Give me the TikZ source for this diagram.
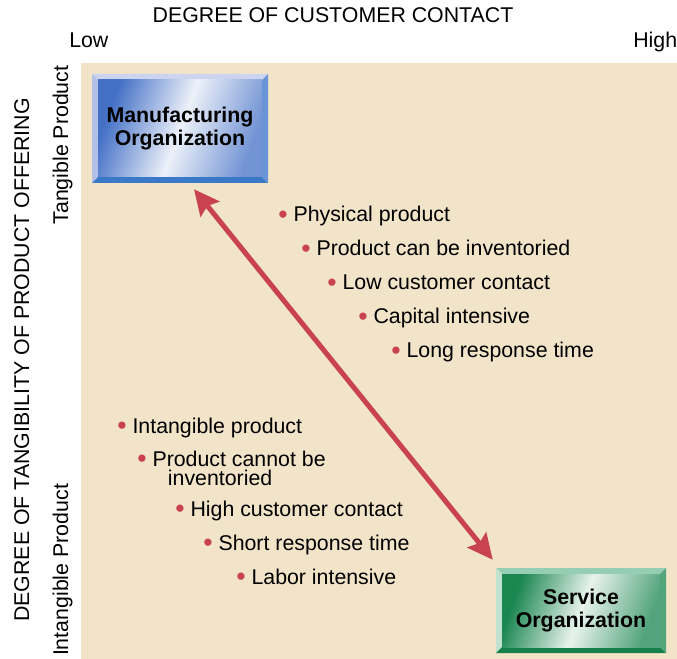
\documentclass[tikz,border=0pt]{standalone}
\usepackage{fontspec}
\setmainfont{Liberation Sans}
\usetikzlibrary{arrows.meta}
\definecolor{panelbg}{RGB}{242,228,200}
\definecolor{dotred}{RGB}{200,66,80}
% Manufacturing box colours
\definecolor{mfgtop}{RGB}{205,212,240}
\definecolor{mfgleft}{RGB}{178,192,232}
\definecolor{mfgbottom}{RGB}{58,120,200}
\definecolor{mfgright}{RGB}{105,148,215}
\definecolor{mfgface}{RGB}{68,112,198}
% Service box colours
\definecolor{svctop}{RGB}{150,206,180}
\definecolor{svcleft}{RGB}{192,226,206}
\definecolor{svcbottom}{RGB}{22,128,74}
\definecolor{svcright}{RGB}{82,166,122}
\definecolor{svcface}{RGB}{26,134,80}
\newcommand{\figfont}{\fontsize{16}{17.25}\selectfont}
\newcommand{\reddot}{\textcolor{dotred}{\raisebox{-1.2pt}{\scalebox{1.25}{\textbullet}}}}
\tikzset{
  bevelbox/.style n args={5}{
    inner sep=0pt, align=center, font=\figfont\bfseries,
    path picture={
      % The corners of the box and of its face
      \coordinate (onw) at (path picture bounding box.north west);
      \coordinate (one) at (path picture bounding box.north east);
      \coordinate (osw) at (path picture bounding box.south west);
      \coordinate (ose) at (path picture bounding box.south east);
      \coordinate (inw) at ([shift={(4.5pt,-4.5pt)}]onw);
      \coordinate (ine) at ([shift={(-4.5pt,-4.5pt)}]one);
      \coordinate (isw) at ([shift={(4.5pt,4.5pt)}]osw);
      \coordinate (ise) at ([shift={(-4.5pt,4.5pt)}]ose);
      % The four bevels
      \fill[#1] (onw) -- (one) -- (ine) -- (inw) -- cycle;
      \fill[#2] (onw) -- (inw) -- (isw) -- (osw) -- cycle;
      \fill[#3] (osw) -- (isw) -- (ise) -- (ose) -- cycle;
      \fill[#4] (one) -- (ose) -- (ise) -- (ine) -- cycle;
      % The shiny face
      \shade[left color=#5, right color=#5!75!white, middle color=white!90!#5,
             shading angle=70] (inw) rectangle (ise);
    }
  },
  item/.style = {anchor=base west},
  bigarrow/.style = {draw=dotred, line width=3.75pt,
    {Stealth[length=19pt,width=18pt,inset=3pt]}-{Stealth[length=19pt,width=18pt,inset=3pt]}}
}

\begin{document}
\begin{tikzpicture}[x=0.75pt,y=-0.75pt,font=\figfont,inner sep=0pt]
    \useasboundingbox (0,0) rectangle (677,659);
    % Beige panel
    \fill[panelbg] (81,63) rectangle (677,659);
    % Axis titles
    \node[anchor=base] (xtitle) at (333,23) {DEGREE OF CUSTOMER CONTACT};
    \node[anchor=base west] (xlow) at (69,48) {Low};
    \node[anchor=base west] (xhigh) at (633,48) {High};
    \node[anchor=base,rotate=90] (ytitle) at (29,360) {DEGREE OF TANGIBILITY OF PRODUCT OFFERING};
    \node[anchor=base,rotate=90] (ytop) at (68,145) {Tangible Product};
    \node[anchor=base,rotate=90] (ybottom) at (68,570) {Intangible Product};
    % The two organizations
    \node[bevelbox={mfgtop}{mfgleft}{mfgbottom}{mfgright}{mfgface},
          minimum width=132pt, minimum height=81.75pt] (mfg) at (180,128.5)
          {Manufacturing\\Organization};
    \node[bevelbox={svctop}{svcleft}{svcbottom}{svcright}{svcface},
          minimum width=127.5pt, minimum height=63.75pt] (svc) at (581,610.5)
          {Service\\Organization};
    % Double arrow between them
    \coordinate (mfgtip) at ([shift={(14,6)}]mfg.south);
    \coordinate (svctip) at ([shift={(-3,-8)}]svc.north west);
    \draw[bigarrow] (mfgtip) -- (svctip);
    % Traits of manufacturing
    \foreach \bx/\by/\txt [count=\i] in {278/221.5/Physical product,
        301/255.5/Product can be inventoried, 327/289.5/Low customer contact,
        358/323.5/Capital intensive, 391/357.5/Long response time}
    \node[item] (tang\i) at (\bx,\by) {\reddot\ \txt};
    % Traits of service
    \foreach \bx/\by/\txt [count=\i from 3] in {175/516/High customer contact,
        203/550/Short response time, 236/584/Labor intensive}
    \node[item] (intang\i) at (\bx,\by) {\reddot\ \txt};
    \node[item] (intang1) at (117,433) {\reddot\ Intangible product};
    \node[item, align=left, font=\fontsize{16}{14.25}\selectfont] (intang2) at (137,485)
          {\reddot\ Product cannot be\\\hspace*{23pt}inventoried};
\end{tikzpicture}
\end{document}
